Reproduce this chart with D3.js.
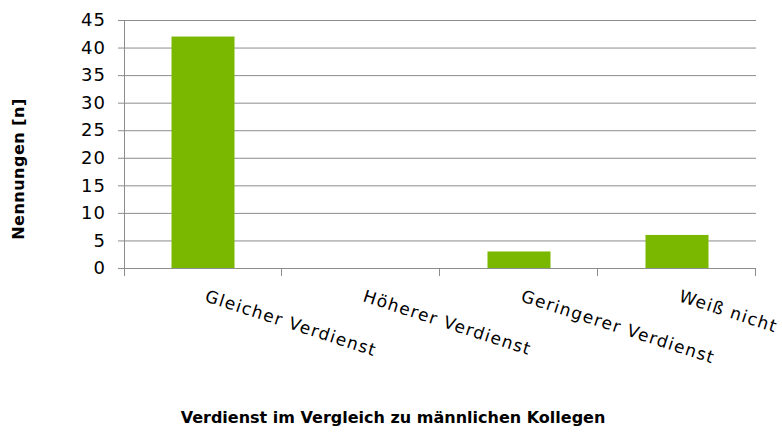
<!DOCTYPE html>
<html>
<head>
<meta charset="utf-8">
<script src="https://cdn.jsdelivr.net/npm/d3@7"></script>
<style>
  body { margin: 0; background: #fff; }
  text { font-family: "DejaVu Sans", Verdana, sans-serif; }
</style>
</head>
<body>
<div id="chart"></div>
<script>
const categories = ["Gleicher Verdienst", "Höherer Verdienst", "Geringerer Verdienst", "Weiß nicht"];
const values = [42, 0, 3, 6];
const yTicks = [0, 5, 10, 15, 20, 25, 30, 35, 40, 45];

const W = 782, H = 432;
const margin = { top: 20, right: 26, bottom: 164, left: 124 };
const width = W - margin.left - margin.right, height = H - margin.top - margin.bottom;

const svg = d3.select("#chart").append("svg")
    .attr("width", W).attr("height", H)
    .append("g")
    .attr("transform", `translate(${margin.left},${margin.top})`);

const x = d3.scaleBand().domain(categories).range([0, width]);
const y = d3.scaleLinear().domain([0, 45]).range([height, 0]);
const barW = 63;

// gridlines
svg.append("g")
    .selectAll("line")
    .data(yTicks)
    .enter().append("line")
    .attr("x1", 0).attr("x2", width)
    .attr("y1", d => y(d) + 0.5).attr("y2", d => y(d) + 0.5)
    .attr("stroke", "#8c8c8c").attr("stroke-width", 1);

// bars
svg.selectAll("rect")
    .data(values)
    .enter().append("rect")
    .attr("x", (d, i) => x(categories[i]) + x.bandwidth() / 2 - barW / 2)
    .attr("width", barW)
    .attr("y", d => y(d))
    .attr("height", d => height - y(d))
    .attr("fill", "#7ab800");

// y axis
const yAxis = svg.append("g")
    .call(d3.axisLeft(y).tickValues(yTicks).tickSize(6).tickSizeOuter(0));
yAxis.select(".domain").remove();
yAxis.append("line").attr("x1", 0.5).attr("x2", 0.5).attr("y1", 0).attr("y2", height + 8)
    .attr("stroke", "#8c8c8c");
yAxis.selectAll(".tick line").attr("stroke", "#8c8c8c");
yAxis.selectAll("text")
    .attr("x", -18)
    .style("font-size", "18px")
    .style("letter-spacing", "1px")
    .style("font-family", "'DejaVu Sans', Verdana, sans-serif")
    .attr("fill", "#000");

// x axis
const xAxis = svg.append("g").attr("transform", `translate(0,${height})`);
xAxis.append("line").attr("x1", 0).attr("x2", width).attr("y1", 0.5).attr("y2", 0.5)
    .attr("stroke", "#8c8c8c");
xAxis.selectAll(".xtick")
    .data(categories)
    .enter().append("line")
    .attr("x1", d => x(d) + x.bandwidth() - 0.5)
    .attr("x2", d => x(d) + x.bandwidth() - 0.5)
    .attr("y1", 0).attr("y2", 8)
    .attr("stroke", "#8c8c8c");

xAxis.selectAll(".xlabel")
    .data(categories)
    .enter().append("text")
    .attr("transform", d => `translate(${x(d) + x.bandwidth() / 2 + 1},${33}) rotate(18)`)
    .style("font-size", "17px")
    .style("letter-spacing", "1.3px")
    .style("text-anchor", "start")
    .text(d => d);

// axis titles
svg.append("text")
    .attr("transform", "rotate(-90)")
    .attr("x", -(169 - margin.top))
    .attr("y", 24 - margin.left)
    .style("text-anchor", "middle")
    .style("font-size", "16px")
    .style("font-weight", "bold")
    .style("letter-spacing", "0.5px")
    .text("Nennungen [n]");

svg.append("text")
    .attr("x", 393 - margin.left)
    .attr("y", 423 - margin.top)
    .style("text-anchor", "middle")
    .style("font-size", "16px")
    .style("font-weight", "bold")
    .text("Verdienst im Vergleich zu männlichen Kollegen");
</script>
</body>
</html>
